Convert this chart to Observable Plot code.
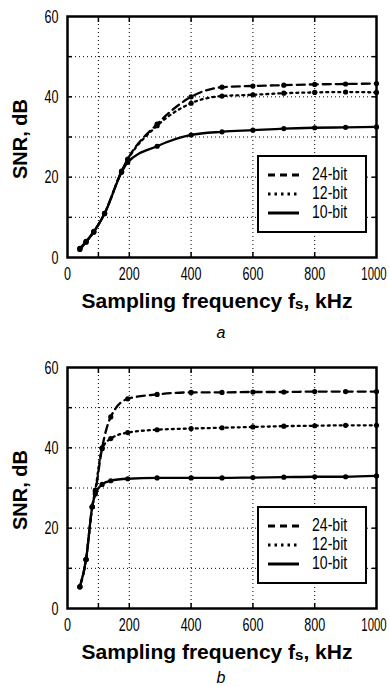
<!DOCTYPE html>
<html>
<head>
<meta charset="utf-8">
<script src="https://cdn.jsdelivr.net/npm/d3@7"></script>
<script src="https://cdn.jsdelivr.net/npm/@observablehq/plot@0.6"></script>
<style>
  html, body { margin: 0; padding: 0; background: #fff; overflow: hidden; }
  .panel { position: relative; width: 389px; height: 351px; }
  .panel svg.plot { position: absolute; left: 0; top: 0; }
  .xtitle { position: absolute; left: 0; width: 434px; top: 289px; text-align: center;
    font: bold 21px "Liberation Sans", Arial, sans-serif; color: #000; white-space: nowrap; }
  .xtitle sub { font-size: 15px; vertical-align: baseline; position: relative; top: 1px; }
  .ytitle { position: absolute; left: 20px; top: 139px; transform: translate(-50%, -50%) rotate(-90deg);
    font: bold 20px "Liberation Sans", Arial, sans-serif; white-space: nowrap; }
  .caption { position: absolute; left: 0; width: 442px; text-align: center;
    font: italic 16px "Liberation Sans", Arial, sans-serif; line-height: 18px; }
  .legend { position: absolute; left: 257px; top: 155px; width: 106px; height: 74px;
    border: 2.5px solid #000; background: #fff; }
  .legend .row { position: absolute; left: 0; height: 20px; width: 100%; }
  .legend svg { position: absolute; left: 8px; top: 0; }
  .legend span { position: absolute; left: 53px; top: -2px; transform: scaleX(0.74); transform-origin: 0 50%;
    font: 19px "Liberation Sans", Arial, sans-serif; line-height: 22px; }
</style>
</head>
<body>
<div id="root"></div>
<script>
// ---- data ----
const seriesNames = ["24-bit", "12-bit", "10-bit"];

const freqA = [40, 60, 85, 120, 175, 195, 290, 400, 500, 600, 700, 800, 900, 1000];
const snrA24 = [2.3, 4.0, 6.5, 11.0, 21.5, 24.5, 33.2, 40.0, 42.4, 42.7, 42.9, 43.1, 43.2, 43.3];
const snrA12 = [2.2, 3.9, 6.4, 11.0, 21.4, 24.3, 32.8, 38.4, 40.2, 40.5, 40.9, 41.1, 41.2, 41.1];
const snrA10 = [2.0, 3.8, 6.3, 10.9, 21.2, 23.7, 27.7, 30.5, 31.3, 31.7, 32.1, 32.3, 32.4, 32.5];

const freqB = [40, 60, 80, 90, 112, 140, 195, 290, 400, 500, 600, 700, 800, 900, 1000];
const snrB24 = [5.4, 12.2, 25.3, 29.0, 40.0, 47.7, 52.2, 53.3, 53.8, 53.8, 53.9, 53.9, 54.0, 54.0, 54.0];
const snrB12 = [5.4, 12.2, 25.3, 29.5, 39.8, 42.3, 43.8, 44.5, 44.8, 45.0, 45.2, 45.4, 45.5, 45.6, 45.6];
const snrB10 = [5.4, 12.2, 25.3, 28.5, 30.9, 31.8, 32.3, 32.5, 32.5, 32.5, 32.6, 32.7, 32.8, 32.8, 33.0];

const xGridTicks = [100, 200, 400, 600, 800];
const xLabelTicks = [0, 200, 400, 600, 800, 1000];
const yGridTicks = [10, 20, 30, 40, 50];
const yLabelTicks = [0, 20, 40, 60];

const dashes = {"24-bit": "8,5", "12-bit": "2,4", "10-bit": null};
const legendDashes = {"24-bit": "7,5", "12-bit": "2.5,4", "10-bit": "none"};

function table(freq, vals) {
  const rows = [];
  seriesNames.forEach((s, i) => freq.forEach((f, j) => {
    if (vals[i][j] != null) rows.push({series: s, f, snr: vals[i][j]});
  }));
  return rows;
}

const tickFont = '"Liberation Sans", Arial, sans-serif';
const fmt = d => String(d);

function panel(freq, vals, caption, captionTop) {
  const data = table(freq, vals);
  const div = document.createElement("div");
  div.className = "panel";
  const tickOpts = {tickSize: -5, text: null, label: null, strokeWidth: 1.5};
  const marks = [
    Plot.gridX(xGridTicks, {stroke: "#000", strokeOpacity: 1, strokeWidth: 1, strokeDasharray: "1,3"}),
    Plot.gridY(yGridTicks, {stroke: "#000", strokeOpacity: 1, strokeWidth: 1, strokeDasharray: "1,3"}),
    Plot.axisX(xGridTicks, {anchor: "bottom", ...tickOpts}),
    Plot.axisX(xGridTicks, {anchor: "top", ...tickOpts}),
    Plot.axisY(yGridTicks, {anchor: "left", ...tickOpts}),
    Plot.axisY(yGridTicks, {anchor: "right", ...tickOpts}),
    Plot.axisX(xLabelTicks, {anchor: "bottom", tickSize: 0, tickPadding: 9, fontSize: 19, tickFormat: fmt, label: null}),
    Plot.axisY(yLabelTicks, {anchor: "left", tickSize: 0, tickPadding: 9, fontSize: 19, tickFormat: fmt, label: null})
  ];
  seriesNames.forEach(s => {
    const d = data.filter(r => r.series === s);
    marks.push(Plot.line(d, {x: "f", y: "snr", curve: "monotone-x", stroke: "#000", strokeWidth: 2.3,
      strokeDasharray: dashes[s] || undefined}));
    marks.push(Plot.dot(d, {x: "f", y: "snr", r: 2.6, fill: "#000", stroke: "none"}));
  });
  marks.push(Plot.frame({stroke: "#000", strokeWidth: 2.5}));
  const chart = Plot.plot({
    width: 389, height: 351,
    marginTop: 16, marginBottom: 94, marginLeft: 67, marginRight: 13,
    x: {domain: [0, 1000]},
    y: {domain: [0, 60]},
    style: {background: "#fff", color: "#000", fontFamily: tickFont},
    marks
  });
  chart.classList.add("plot");
  div.appendChild(chart);

  const yt = document.createElement("div");
  yt.className = "ytitle"; yt.textContent = "SNR, dB";
  div.appendChild(yt);

  const xt = document.createElement("div");
  xt.className = "xtitle";
  xt.innerHTML = "Sampling frequency f<sub>s</sub>, kHz";
  div.appendChild(xt);

  const cap = document.createElement("div");
  cap.className = "caption"; cap.textContent = caption;
  cap.style.top = captionTop + "px";
  div.appendChild(cap);

  const lg = document.createElement("div");
  lg.className = "legend";
  seriesNames.forEach((s, i) => {
    const row = document.createElement("div");
    row.className = "row";
    row.style.top = (8 + i * 19) + "px";
    row.innerHTML = `<svg width="34" height="20"><line x1="1" x2="32" y1="10" y2="10" stroke="#000" stroke-width="3" stroke-dasharray="${legendDashes[s]}"/></svg><span>${s}</span>`;
    lg.appendChild(row);
  });
  div.appendChild(lg);
  return {div, chart};
}

function condense(chart) {
  chart.querySelectorAll('g[aria-label$="tick label"] text').forEach(t => {
    const len = t.getComputedTextLength();
    const isEdge = t.textContent === "1000";
    t.setAttribute("textLength", (len * (isEdge ? 0.6 : 0.66)).toFixed(2));
    t.setAttribute("lengthAdjust", "spacingAndGlyphs");
    if (isEdge) t.setAttribute("dx", "-2.5");
  });
}

const root = document.getElementById("root");
const pa = panel(freqA, [snrA24, snrA12, snrA10], "a", 324);
root.appendChild(pa.div); condense(pa.chart);
const pb = panel(freqB, [snrB24, snrB12, snrB10], "b", 318);
root.appendChild(pb.div); condense(pb.chart);
</script>
</body>
</html>
